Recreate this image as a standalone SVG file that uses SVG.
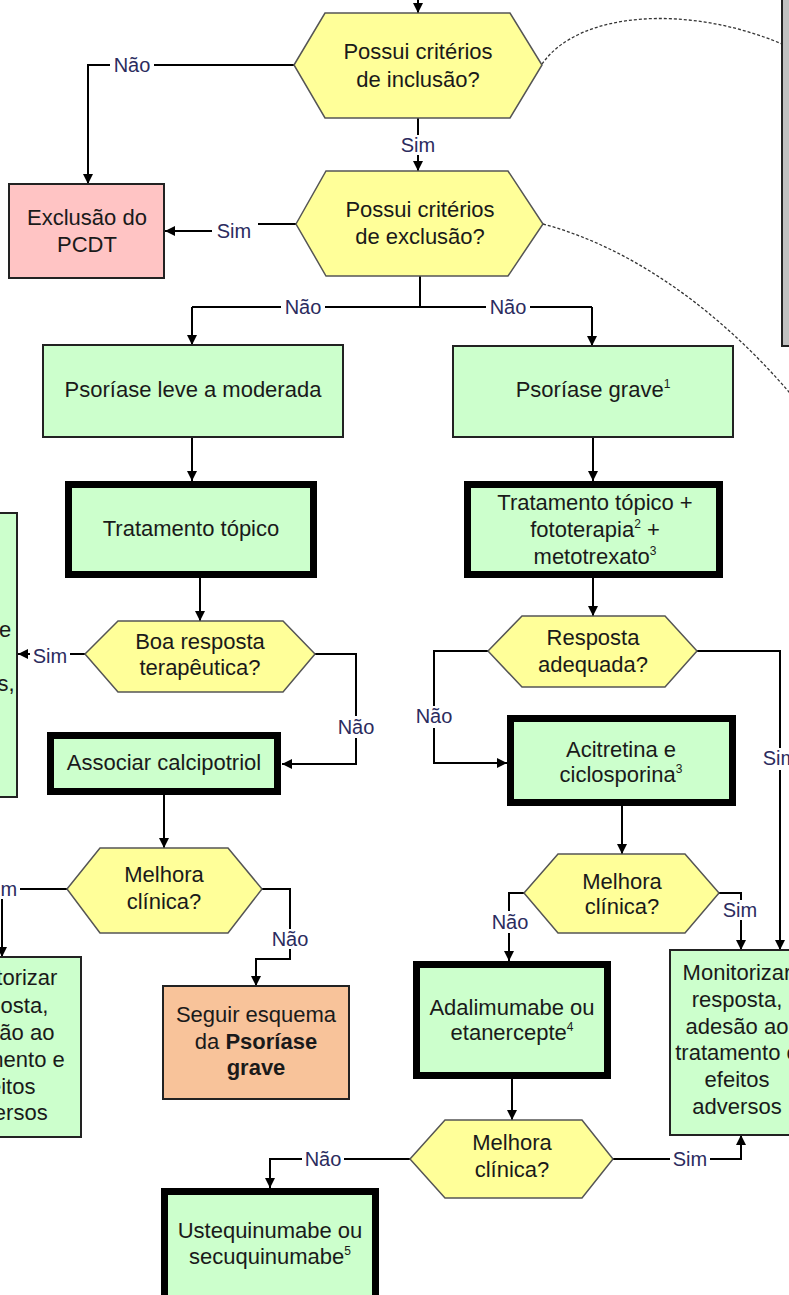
<svg xmlns="http://www.w3.org/2000/svg" width="789" height="1295" viewBox="0 0 789 1295">
<defs>
<marker id="ah" markerWidth="12" markerHeight="12" refX="10" refY="5" orient="auto" markerUnits="userSpaceOnUse">
<path d="M0,0 L10,5 L0,10 Z" fill="#000"/>
</marker>
<style>
text{font-family:"Liberation Sans",Arial,sans-serif;font-size:22px;fill:#1a1a1a;text-anchor:middle}
.hex{fill:#FFFF99;stroke:#555;stroke-width:1.5}
.box{fill:#CCFFCC;stroke:#222;stroke-width:2}
.thick{fill:#CCFFCC;stroke:#000;stroke-width:7}
.con{fill:none;stroke:#000;stroke-width:2}
.arr{marker-end:url(#ah)}
.dash{fill:none;stroke:#333;stroke-width:1.3;stroke-dasharray:3 2}
.lbl text{font-size:20px;fill:#2b2b5e}
.lbl rect{fill:#fff}
.sup{font-size:12px}
</style>
</defs>
<rect width="789" height="1295" fill="#fff"/>

<g id="dashed">
<path class="dash" d="M542,64 C580,10 690,5 782,44"/>
<path class="dash" d="M543,224 C640,250 730,320 800,405"/>
</g>

<g id="gray-box"><rect x="782" y="-5" width="30" height="351" fill="#C0C0C0" stroke="#222" stroke-width="2"/></g>

<g id="connectors">
<path class="con arr" d="M418,0 V13"/>
<path class="con arr" d="M294,65 H88 V184"/>
<path class="con arr" d="M418,118 V171"/>
<path class="con arr" d="M296,224 H250 V231 H165"/>
<path class="con" d="M420,276 V307 M192,307 H592"/>
<path class="con arr" d="M192,307 V345"/>
<path class="con arr" d="M592,307 V346"/>
<path class="con arr" d="M192,437 V481"/>
<path class="con arr" d="M593,437 V481"/>
<path class="con arr" d="M200,578 V621"/>
<path class="con arr" d="M85,654 H18"/>
<path class="con arr" d="M315,654 H356 V764 H282"/>
<path class="con arr" d="M164,795 V848"/>
<path class="con arr" d="M67,889 H2 V957"/>
<path class="con arr" d="M262,889 H290 V959 H256 V986"/>
<path class="con arr" d="M593,578 V616"/>
<path class="con arr" d="M488,651 H434 V763 H507"/>
<path class="con arr" d="M697,651 H780 V950"/>
<path class="con arr" d="M622,806 V854"/>
<path class="con arr" d="M524,893 H509 V961"/>
<path class="con arr" d="M719,893 H741 V950"/>
<path class="con arr" d="M512,1079 V1120"/>
<path class="con arr" d="M613,1159 H741 V1135"/>
<path class="con arr" d="M410,1159 H270 V1188"/>
</g>

<g id="labels" class="lbl">
<rect x="110" y="55" width="44" height="20"/><text x="132" y="72">Não</text>
<rect x="399" y="135" width="40" height="20"/><text x="418" y="152">Sim</text>
<rect x="212" y="218" width="46" height="24"/><text x="234" y="238">Sim</text>
<rect x="281" y="297" width="44" height="20"/><text x="303" y="314">Não</text>
<rect x="486" y="297" width="44" height="20"/><text x="508" y="314">Não</text>
<rect x="30" y="645" width="40" height="20"/><text x="50" y="663">Sim</text>
<rect x="336" y="716" width="40" height="22"/><text x="356" y="734">Não</text>
<rect x="-20" y="879" width="40" height="20"/><text x="0" y="896">Sim</text>
<rect x="270" y="929" width="40" height="20"/><text x="290" y="946">Não</text>
<rect x="414" y="706" width="40" height="22"/><text x="434" y="723">Não</text>
<rect x="760" y="748" width="40" height="22"/><text x="780" y="765">Sim</text>
<rect x="490" y="911" width="40" height="22"/><text x="510" y="929">Não</text>
<rect x="721" y="900" width="40" height="20"/><text x="740" y="917">Sim</text>
<rect x="670" y="1149" width="40" height="20"/><text x="690" y="1166">Sim</text>
<rect x="302" y="1149" width="42" height="20"/><text x="323" y="1166">Não</text>
</g>

<g id="n-inclusao">
<polygon class="hex" points="294,65 325,13 510,13 542,65 510,118 325,118"/>
<text x="418" y="59">Possui critérios</text>
<text x="418" y="87">de inclusão?</text>
</g>
<g id="n-exclusao-pcdt">
<rect x="9" y="184" width="155" height="94" fill="#FFC4C4" stroke="#222" stroke-width="2"/>
<text x="87" y="225">Exclusão do</text>
<text x="87" y="252">PCDT</text>
</g>
<g id="n-exclusao">
<polygon class="hex" points="296,224 326,171 508,171 543,224 508,276 326,276"/>
<text x="420" y="217">Possui critérios</text>
<text x="420" y="244">de exclusão?</text>
</g>
<g id="n-leve">
<rect class="box" x="43" y="345" width="300" height="92"/>
<text x="193" y="397">Psoríase leve a moderada</text>
</g>
<g id="n-grave">
<rect class="box" x="453" y="346" width="280" height="91"/>
<text x="593" y="397">Psoríase grave<tspan class="sup" dy="-9">1</tspan></text>
</g>
<g id="n-topico">
<rect class="thick" x="68.5" y="484.5" width="245" height="90"/>
<text x="191" y="536">Tratamento tópico</text>
</g>
<g id="n-topico-foto">
<rect class="thick" x="467.5" y="484.5" width="252" height="90"/>
<text x="595" y="510">Tratamento tópico +</text>
<text x="595" y="537">fototerapia<tspan class="sup" dy="-9">2</tspan><tspan dy="9"> +</tspan></text>
<text x="595" y="564">metotrexato<tspan class="sup" dy="-9">3</tspan></text>
</g>
<g id="n-left-box">
<rect class="box" x="-140" y="513" width="157" height="284"/>
<text x="5" y="637">e</text>
<text x="6" y="691">s,</text>
</g>
<g id="n-boa">
<polygon class="hex" points="85,654 118,621 283,621 315,654 283,692 118,692"/>
<text x="200" y="649">Boa resposta</text>
<text x="200" y="675">terapêutica?</text>
</g>
<g id="n-calcipotriol">
<rect class="thick" x="50.5" y="735.5" width="227" height="56"/>
<text x="164" y="770">Associar calcipotriol</text>
</g>
<g id="n-melhora-l">
<polygon class="hex" points="67,889 100,848 228,848 262,889 228,933 100,933"/>
<text x="164" y="882">Melhora</text>
<text x="164" y="909">clínica?</text>
</g>
<g id="n-monitor-l">
<rect class="box" x="-75" y="957" width="156" height="180"/>
<text x="3" y="985">Monitorizar</text>
<text x="3" y="1013">resposta,</text>
<text x="3" y="1040">adesão ao</text>
<text x="3" y="1067">tratamento e</text>
<text x="3" y="1094">efeitos</text>
<text x="3" y="1120">adversos</text>
</g>
<g id="n-seguir">
<rect x="163" y="986" width="186" height="113" fill="#F8C39A" stroke="#222" stroke-width="2"/>
<text x="256" y="1022">Seguir esquema</text>
<text x="256" y="1049">da <tspan font-weight="bold">Psoríase</tspan></text>
<text x="256" y="1075" font-weight="bold">grave</text>
</g>
<g id="n-resposta">
<polygon class="hex" points="488,651 522,616 665,616 697,651 665,687 522,687"/>
<text x="593" y="645">Resposta</text>
<text x="593" y="672">adequada?</text>
</g>
<g id="n-acitretina">
<rect class="thick" x="510.5" y="718.5" width="222" height="84"/>
<text x="621" y="757">Acitretina e</text>
<text x="621" y="782">ciclosporina<tspan class="sup" dy="-9">3</tspan></text>
</g>
<g id="n-melhora-r">
<polygon class="hex" points="524,893 558,854 685,854 719,893 685,933 558,933"/>
<text x="622" y="889">Melhora</text>
<text x="622" y="914">clínica?</text>
</g>
<g id="n-adalimumabe">
<rect class="thick" x="416.5" y="964.5" width="191" height="111"/>
<text x="512" y="1015">Adalimumabe ou</text>
<text x="512" y="1040">etanercepte<tspan class="sup" dy="-9">4</tspan></text>
</g>
<g id="n-monitor-r">
<rect class="box" x="670" y="950" width="134" height="185"/>
<text x="737" y="980">Monitorizar</text>
<text x="737" y="1007">resposta,</text>
<text x="737" y="1034">adesão ao</text>
<text x="737" y="1060">tratamento e</text>
<text x="737" y="1087">efeitos</text>
<text x="737" y="1114">adversos</text>
</g>
<g id="n-melhora-b">
<polygon class="hex" points="410,1159 445,1120 582,1120 613,1159 582,1198 445,1198"/>
<text x="512" y="1150">Melhora</text>
<text x="512" y="1177">clínica?</text>
</g>
<g id="n-ustequinumabe">
<rect class="thick" x="164.5" y="1191.5" width="211" height="120"/>
<text x="270" y="1238">Ustequinumabe ou</text>
<text x="270" y="1264">secuquinumabe<tspan class="sup" dy="-9">5</tspan></text>
</g>
</svg>
